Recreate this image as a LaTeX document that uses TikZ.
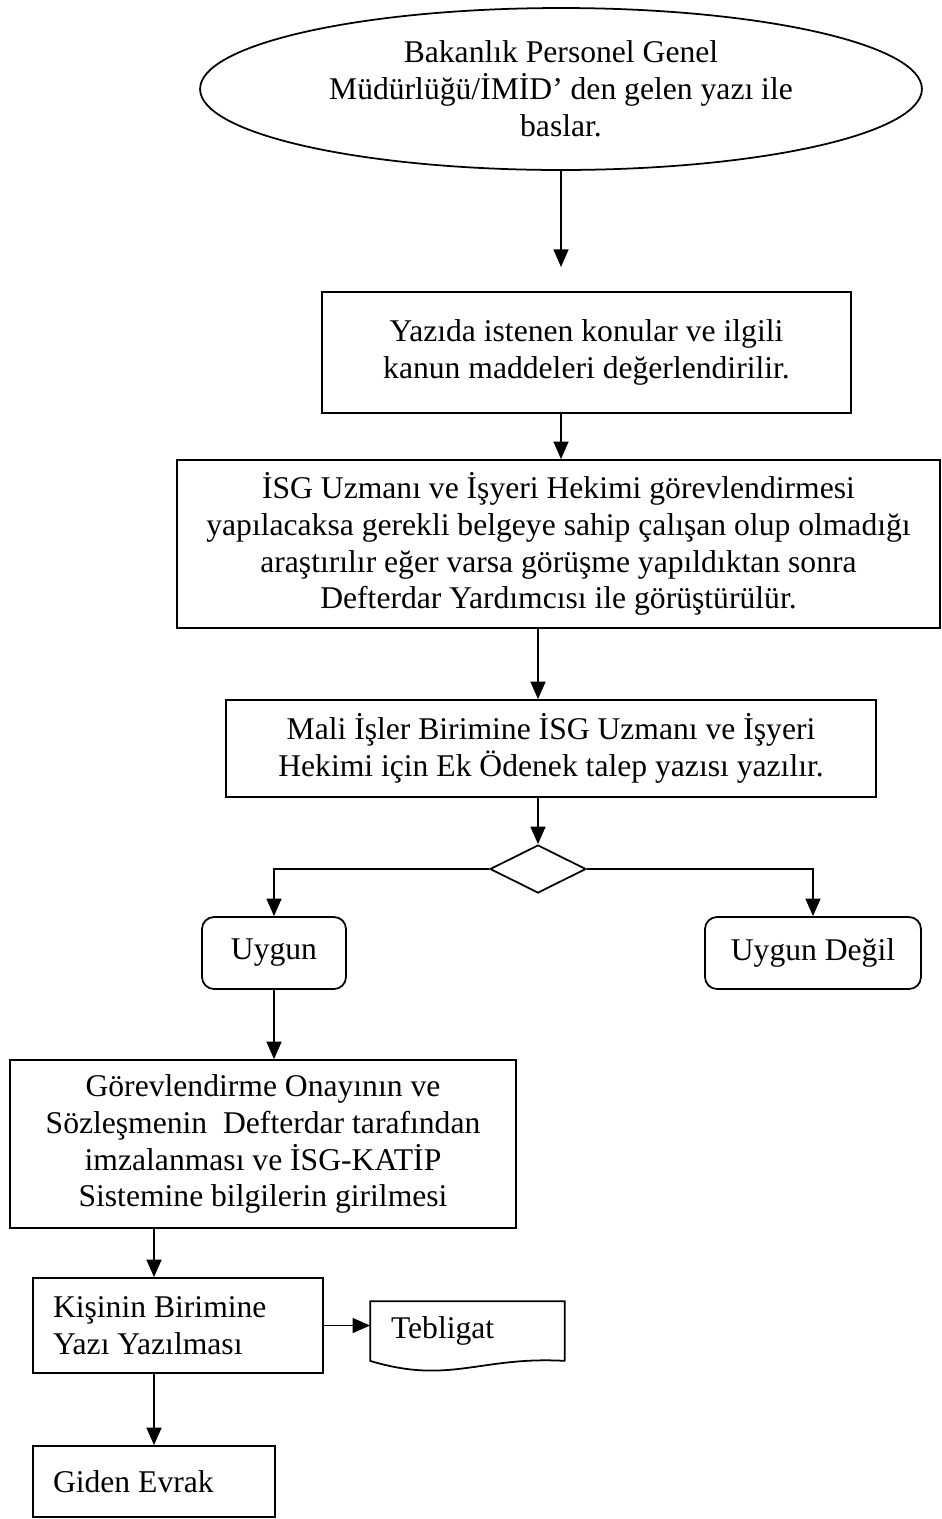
\documentclass[tikz,border=0pt]{standalone}
\usepackage{fontspec}
\setmainfont{Liberation Serif}
\usetikzlibrary{shapes.geometric,arrows.meta,positioning}

\begin{document}
\begin{tikzpicture}[x=0.02cm,y=-0.02cm,
	every node/.style={font=\fontsize{18}{21}\selectfont},
	kutu/.style={draw,line width=1pt,align=center,inner sep=0pt},
	solkutu/.style={kutu,align=flush left,inner xsep=0.4cm},
	yuvarlak/.style={kutu,rounded corners=0.24cm},
	ok/.style={-{Triangle[length=10pt,width=8.5pt]},line width=1pt}]
	\useasboundingbox (0,0) rectangle (942,1519);
	\node[kutu,ellipse,minimum width=14.44cm,minimum height=3.24cm] (start) at (561,89) {Bakanlık Personel Genel\\Müdürlüğü/İMİD’ den gelen yazı ile\\baslar.};
	\coordinate (bosluk) at (561,267);
	\node[kutu,minimum width=10.58cm,minimum height=2.42cm] (konular) at (586.5,352.5) {Yazıda istenen konular ve ilgili\\kanun maddeleri değerlendirilir.};
	\node[kutu,minimum width=15.26cm,minimum height=3.36cm] (isg) at (558.5,544) {İSG Uzmanı ve İşyeri Hekimi görevlendirmesi\\yapılacaksa gerekli belgeye sahip çalışan olup olmadığı\\araştırılır eğer varsa görüşme yapıldıktan sonra\\Defterdar Yardımcısı ile görüştürülür.};
	\node[kutu,minimum width=13cm,minimum height=1.94cm] (odenek) at (551,748.5) {Mali İşler Birimine İSG Uzmanı ve İşyeri\\Hekimi için Ek Ödenek talep yazısı yazılır.};
	\node[kutu,diamond,minimum width=1.92cm,minimum height=0.96cm] (karar) at (538,869) {};
	\node[yuvarlak,minimum width=2.88cm,minimum height=1.44cm] (uygun) at (274,953) {Uygun};
	\node[yuvarlak,minimum width=4.32cm,minimum height=1.44cm] (uygundegil) at (813,953) {Uygun Değil};
	\node[kutu,minimum width=10.12cm,minimum height=3.36cm] (gorev) at (263,1144) {Görevlendirme Onayının ve\\Sözleşmenin\ \ Defterdar tarafından\\imzalanması ve İSG-KATİP\\Sistemine bilgilerin girilmesi};
	\node[solkutu,text width=5cm,minimum height=1.9cm] (kisi) at (178,1325.5) {Kişinin Birimine\\Yazı Yazılması};
	\node[solkutu,draw=none,text width=3.06cm,minimum height=1.16cm] (tebligat) at (467.5,1331) {Tebligat};
	\draw[line width=1pt] (tebligat.south east) -- (tebligat.north east) -- (tebligat.north west) -- (tebligat.south west)
		.. controls (450,1385) and (480,1356) .. (tebligat.south east);
	\node[solkutu,text width=4.04cm,minimum height=1.42cm] (giden) at (154,1481.5) {Giden Evrak};
	\draw[ok] (start.south) -- (bosluk);
	\draw[ok] (konular.south -| start.south) -- (isg.north -| start.south);
	\draw[ok] (isg.south -| karar.north) -- (odenek.north -| karar.north);
	\draw[ok] (odenek.south -| karar.north) -- (karar.north);
	\draw[ok] (karar.west) -| (uygun.north);
	\draw[ok] (karar.east) -| (uygundegil.north);
	\draw[ok] (uygun.south) -- (uygun.south |- gorev.north);
	\draw[ok] (gorev.south -| giden.north) -- (kisi.north -| giden.north);
	\draw[ok] (kisi.east) -- (tebligat.west |- kisi.east);
	\draw[ok] (kisi.south -| giden.north) -- (giden.north);
\end{tikzpicture}
\end{document}
